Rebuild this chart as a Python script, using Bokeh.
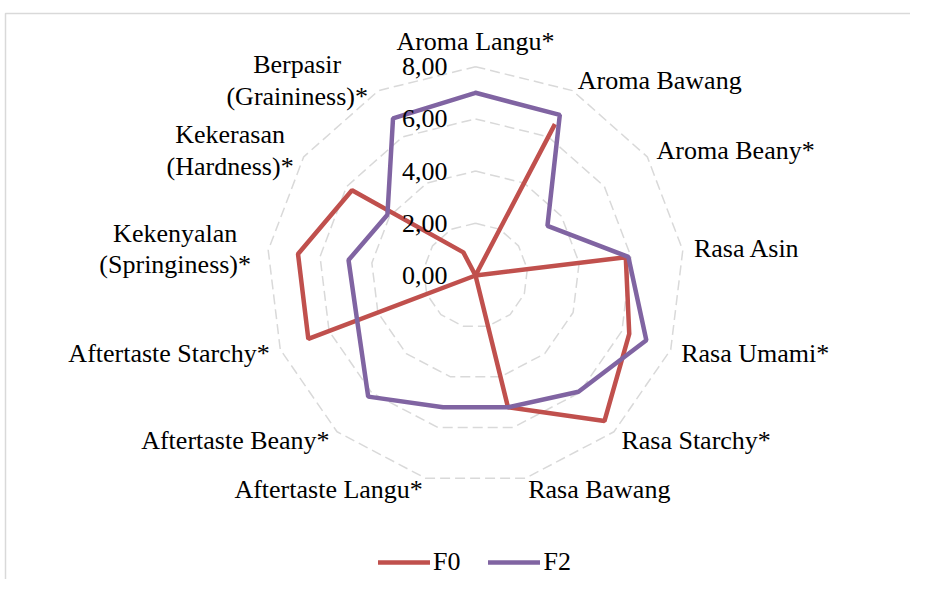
from math import sin, cos, pi
from bokeh.plotting import figure
from bokeh.models import Range1d, Legend, LegendItem
from bokeh.core.properties import value
from bokeh.embed import file_html
from bokeh.resources import INLINE

# ---------------- data ----------------
categories = [
    "Aroma Langu*", "Aroma Bawang", "Aroma Beany*", "Rasa Asin", "Rasa Umami*",
    "Rasa Starchy*", "Rasa Bawang", "Aftertaste Langu*", "Aftertaste Beany*",
    "Aftertaste Starchy*", "Kekenyalan\n(Springiness)*", "Kekerasan\n(Hardness)*",
    "Berpasir\n(Graininess)*",
]
f0 = [0.0, 6.55, 0.0, 5.8, 6.3, 7.45, 5.2, 0.0, 0.0, 6.85, 6.85, 5.75, 1.0]
f2 = [7.0, 6.95, 3.35, 5.9, 7.0, 5.95, 5.2, 5.2, 6.2, 4.85, 4.9, 4.1, 6.8]
tick_values = [0, 2, 4, 6, 8]
tick_labels = ["0,00", "2,00", "4,00", "6,00", "8,00"]
series_names = ["F0", "F2"]

# ---------------- layout ----------------
W, H = 910, 579
OFF = 0
CX, CY = 475, 275          # centre in page pixels
S = 26.1                   # pixels per value unit
FONT = "Liberation Serif"
FS = 26
GRID_COLOR = "#d9d9d9"
COLORS = ["#C0504D", "#8064A2"]

x0 = (OFF - CX) / S
x1 = (OFF + W - CX) / S
y0 = (CY - (OFF + H)) / S
y1 = (CY - OFF) / S

p = figure(width=W, height=H, x_range=Range1d(x0, x1), y_range=Range1d(y0, y1),
           x_axis_type=None, y_axis_type=None, output_backend="svg",
           toolbar_location=None, min_border=0)
p.grid.visible = False
p.outline_line_color = None
p.background_fill_color = "white"
p.border_fill_color = "white"

n = len(categories)
angles = [2 * pi * i / n for i in range(n)]


def polar(r, a):
    return r * sin(a), r * cos(a)


def px(X, Y):
    return (X - CX) / S, (CY - Y) / S

# chart border (left and top edges)
bx0, by0 = px(5, 13)
p.line([bx0, bx0, x1 + 1], [y0 - 1, by0, by0], line_color=GRID_COLOR, line_width=1.5)

# grid polygons
for v in tick_values[1:]:
    xs = [polar(v, a)[0] for a in angles] + [polar(v, angles[0])[0]]
    ys = [polar(v, a)[1] for a in angles] + [polar(v, angles[0])[1]]
    p.line(xs, ys, line_color=GRID_COLOR, line_width=1.5, line_dash="10 5")

# series
renderers = []
for vals, col in zip([f0, f2], COLORS):
    xs = [polar(v, a)[0] for v, a in zip(vals, angles)] + [polar(vals[0], angles[0])[0]]
    ys = [polar(v, a)[1] for v, a in zip(vals, angles)] + [polar(vals[0], angles[0])[1]]
    r = p.line(xs, ys, line_color=col, line_width=4.5, line_cap="round")
    renderers.append(r)

# radial tick labels
p.text(x=[0] * len(tick_values), y=tick_values, text=tick_labels,
       text_font=value(FONT), text_font_size=f"{FS}px", text_color="black",
       text_align="right", text_baseline="middle", x_offset=-28)

# category labels
LR = 220 / S
for cat, a in zip(categories, angles):
    lx, ly = polar(LR, a)
    s = sin(a)
    lines = cat.split("\n")
    if abs(s) < 0.05:
        align, base = "center", "bottom"
    elif len(lines) > 1:
        half = 0.45 * FS * max(len(l) for l in lines) / 2 / S
        lx = lx + half if s > 0 else lx - half
        align, base = "center", "middle"
    else:
        align = "left" if s > 0 else "right"
        base = "middle"
    p.text(x=[lx], y=[ly], text=[cat], text_font=value(FONT),
           text_font_size=f"{FS}px", text_color="black", text_align=align,
           text_baseline=base, text_line_height=1.1)

legend = Legend(items=[LegendItem(label=nm, renderers=[r]) for nm, r in zip(series_names, renderers)],
                orientation="horizontal", location=(378, 2), glyph_width=52,
                glyph_height=30, label_height=30, label_standoff=3, spacing=28,
                padding=0, margin=0, border_line_color=None, background_fill_alpha=0,
                label_text_font=FONT, label_text_font_size=f"{FS}px",
                label_text_color="black")
p.add_layout(legend)

open("out.html", "w").write(file_html(p, INLINE))
